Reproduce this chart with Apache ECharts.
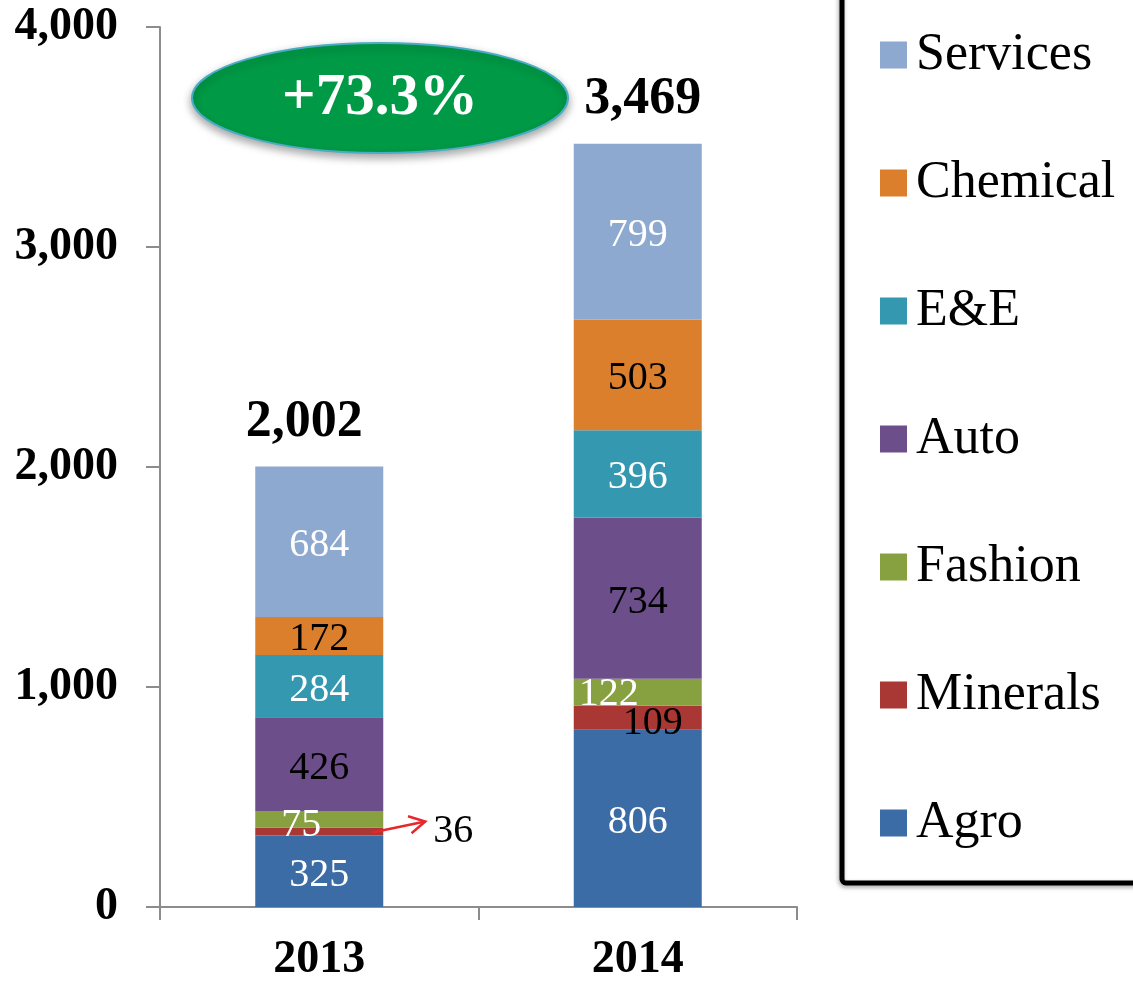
<!DOCTYPE html>
<html>
<head>
<meta charset="utf-8">
<script src="https://cdn.jsdelivr.net/npm/echarts@6/dist/echarts.min.js"></script>
<style>html,body{margin:0;padding:0;background:#fff}#c{width:1133px;height:983px}</style>
</head>
<body>
<div id="c"></div>
<script>
const categories = ['2013', '2014'];
const seriesNames = ['Agro', 'Minerals', 'Fashion', 'Auto', 'E&E', 'Chemical', 'Services'];
const agro = [325, 806];
const minerals = [36, 109];
const fashion = [75, 122];
const auto = [426, 734];
const ee = [284, 396];
const chemical = [172, 503];
const services = [684, 799];
const totals = [2002, 3469];
const totalLabels = ['2,002', '3,469'];
const growthText = '+73.3%';

const colors = ['#3B6CA6', '#A93834', '#87A140', '#6B4E8A', '#3398B0', '#DB7F2D', '#8EA9D0'];
const labelColors = ['#fff', '#000', '#fff', '#000', '#fff', '#000', '#fff'];
const values = [agro, minerals, fashion, auto, ee, chemical, services];
const FONT = '"Liberation Serif", "Times New Roman", serif';

const chart = echarts.init(document.getElementById('c'), null, {renderer: 'canvas'});

const series = seriesNames.map((name, i) => ({
  name: name,
  type: 'bar',
  stack: 'total',
  barWidth: 128,
  itemStyle: {color: colors[i]},
  label: {
    show: true,
    position: 'inside',
    offset: [0, 4],
    color: labelColors[i],
    fontFamily: FONT,
    fontSize: 40
  },
  data: values[i].map((v, j) => {
    const d = {value: v};
    if (name === 'Minerals' && j === 0) {
      d.label = {position: 'right', distance: 50, offset: [0, 0], color: '#000'};
    } else if (name === 'Minerals' && j === 1) {
      d.label = {offset: [15, 6], color: '#000'};
    } else if (name === 'Fashion' && j === 0) {
      d.label = {offset: [-18, 6]};
    } else if (name === 'Fashion' && j === 1) {
      d.label = {offset: [-29, 2]};
    }
    return d;
  })
}));

series.push({
  name: 'TotalLabel',
  type: 'bar',
  stack: 'total',
  barWidth: 128,
  itemStyle: {color: 'transparent'},
  label: {
    show: true,
    position: 'top',
    distance: 18,
    color: '#000',
    fontFamily: FONT,
    fontWeight: 'bold',
    fontSize: 52,
    formatter: p => totalLabels[p.dataIndex]
  },
  data: totals.map((t, j) => ({value: 0, label: {offset: [j === 0 ? -15 : 5, 0]}}))
});

chart.setOption({
  animation: false,
  backgroundColor: '#fff',
  grid: {left: 160, right: 336, top: 27, bottom: 75, containLabel: false},
  xAxis: {
    type: 'category',
    data: categories,
    axisLine: {lineStyle: {color: '#8c8c8c', width: 2}},
    axisTick: {show: true, length: 13, lineStyle: {color: '#8c8c8c', width: 2}},
    axisLabel: {color: '#000', fontFamily: FONT, fontWeight: 'bold', fontSize: 46, margin: 30}
  },
  yAxis: {
    type: 'value',
    min: 0,
    max: 4000,
    interval: 1000,
    axisLine: {show: true, lineStyle: {color: '#8c8c8c', width: 2}},
    axisTick: {show: true, length: 14, lineStyle: {color: '#8c8c8c', width: 2}},
    splitLine: {show: false},
    axisLabel: {
      color: '#000', fontFamily: FONT, fontWeight: 'bold', fontSize: 46, margin: 42,
      formatter: v => v.toLocaleString('en-US')
    }
  },
  legend: {
    data: ['Services', 'Chemical', 'E&E', 'Auto', 'Fashion', 'Minerals', 'Agro'],
    orient: 'vertical',
    left: 875,
    top: 20,
    icon: 'rect',
    itemWidth: 27,
    itemHeight: 27,
    itemGap: 68,
    selectedMode: false,
    textStyle: {color: '#000', fontFamily: FONT, fontSize: 52, lineHeight: 60, padding: [0, 0, 0, 4]}
  },
  series: series
});

// arrow from Minerals 2013 segment to its outside label
const p0 = chart.convertToPixel({gridIndex: 0}, [0, agro[0] + minerals[0] / 2]);
const x0 = p0[0] + 53, y0 = p0[1] + 1;
const x1 = p0[0] + 106, y1 = p0[1] - 10;
const ang = Math.atan2(y1 - y0, x1 - x0);
const ah = 18;

chart.setOption({
  graphic: [
    {
      type: 'rect', id: 'legendBox',
      shape: {x: 842, y: -20, width: 320, height: 903, r: 4},
      style: {fill: 'none', stroke: '#000', lineWidth: 5, shadowColor: 'rgba(0,0,0,0.35)', shadowBlur: 4, shadowOffsetX: -1, shadowOffsetY: 2},
      z: 10
    },
    {
      type: 'ellipse', id: 'growthEllipse',
      shape: {cx: 380, cy: 98, rx: 188, ry: 55},
      style: {fill: '#009A46', stroke: '#4BACC6', lineWidth: 2, shadowColor: 'rgba(0,0,0,0.35)', shadowBlur: 8, shadowOffsetX: 0, shadowOffsetY: 4},
      z: 10
    },
    {
      type: 'text', id: 'growthText',
      x: 380, y: 99,
      style: {text: growthText, fill: '#fff', font: 'bold 59px ' + FONT, textAlign: 'center', textVerticalAlign: 'middle'},
      z: 11
    },
    {
      type: 'line', id: 'arrowLine', z: 12,
      shape: {x1: x0, y1: y0, x2: x1, y2: y1},
      style: {stroke: '#E8262B', lineWidth: 2.5}
    },
    {
      type: 'polyline', id: 'arrowHead', z: 12,
      shape: {points: [
        [x1 - ah * Math.cos(ang - 0.5), y1 - ah * Math.sin(ang - 0.5)],
        [x1, y1],
        [x1 - ah * Math.cos(ang + 0.5), y1 - ah * Math.sin(ang + 0.5)]
      ]},
      style: {stroke: '#E8262B', lineWidth: 2.5, fill: null}
    }
  ]
});
</script>
</body>
</html>
